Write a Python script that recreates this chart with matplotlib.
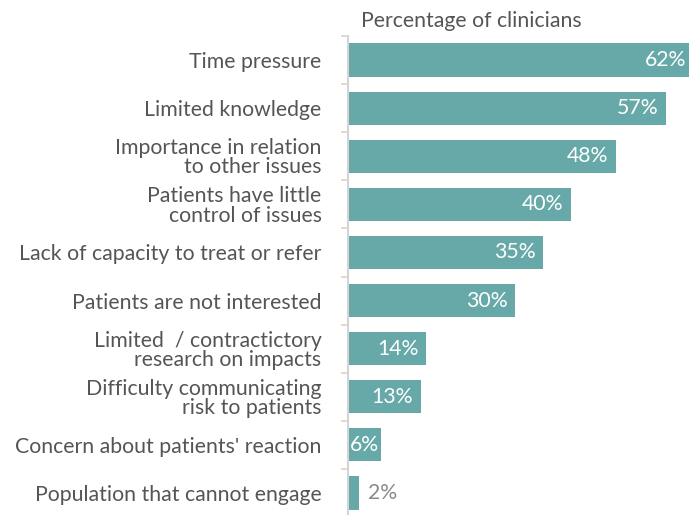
import matplotlib.pyplot as plt

labels = ["Time pressure", "Limited knowledge", "Importance in relation\nto other issues",
          "Patients have little\ncontrol of issues", "Lack of capacity to treat or refer",
          "Patients are not interested", "Limited  / contractictory\nresearch on impacts",
          "Difficulty communicating\nrisk to patients", "Concern about patients' reaction",
          "Population that cannot engage"]
values = [62, 57, 48, 40, 35, 30, 14, 13, 6, 2]

plt.rcParams['font.family'] = ['Lato', 'DejaVu Sans']
text_col = "#555555"
bar_col = "#67a9a9"
fs = 15.3

fig = plt.figure(figsize=(6.89, 5.15), dpi=100)
ax = fig.add_axes([0.505, -0.0039, 0.495, 0.934])

pos = list(range(len(values)))
ax.barh(pos, values, height=0.69, color=bar_col)
ax.set_ylim(9.5, -0.5)
ax.set_xlim(0, 61.1)

for i, v in enumerate(values):
    if v >= 10:
        ax.text(v - 1.4, i, f"{v}%", ha="right", va="center", color="white", fontsize=fs, clip_on=False)
    elif v >= 5:
        ax.text(v / 2, i, f"{v}%", ha="center", va="center", color="white", fontsize=fs)
    else:
        ax.text(v + 1.6, i, f"{v}%", ha="left", va="center", color="#8a8a8a", fontsize=fs)

ax.set_yticks(pos)
ax.set_yticklabels(labels, fontsize=fs, color=text_col, multialignment="right", linespacing=0.95)
ax.tick_params(axis="y", which="major", length=0, pad=19)
ax.set_yticks([p - 0.5 for p in range(len(values) + 1)], minor=True)
ax.tick_params(axis="y", which="minor", length=5, width=1.2, color="#d4d4d4")
ax.set_xticks([])

for s in ["top", "right", "bottom"]:
    ax.spines[s].set_visible(False)
ax.spines["left"].set_color("#d4d4d4")
ax.spines["left"].set_linewidth(1.5)

fig.text(0.524, 0.96, "Percentage of clinicians", fontsize=fs, color=text_col, ha="left", va="center")

fig.savefig("out.png", dpi=100)
